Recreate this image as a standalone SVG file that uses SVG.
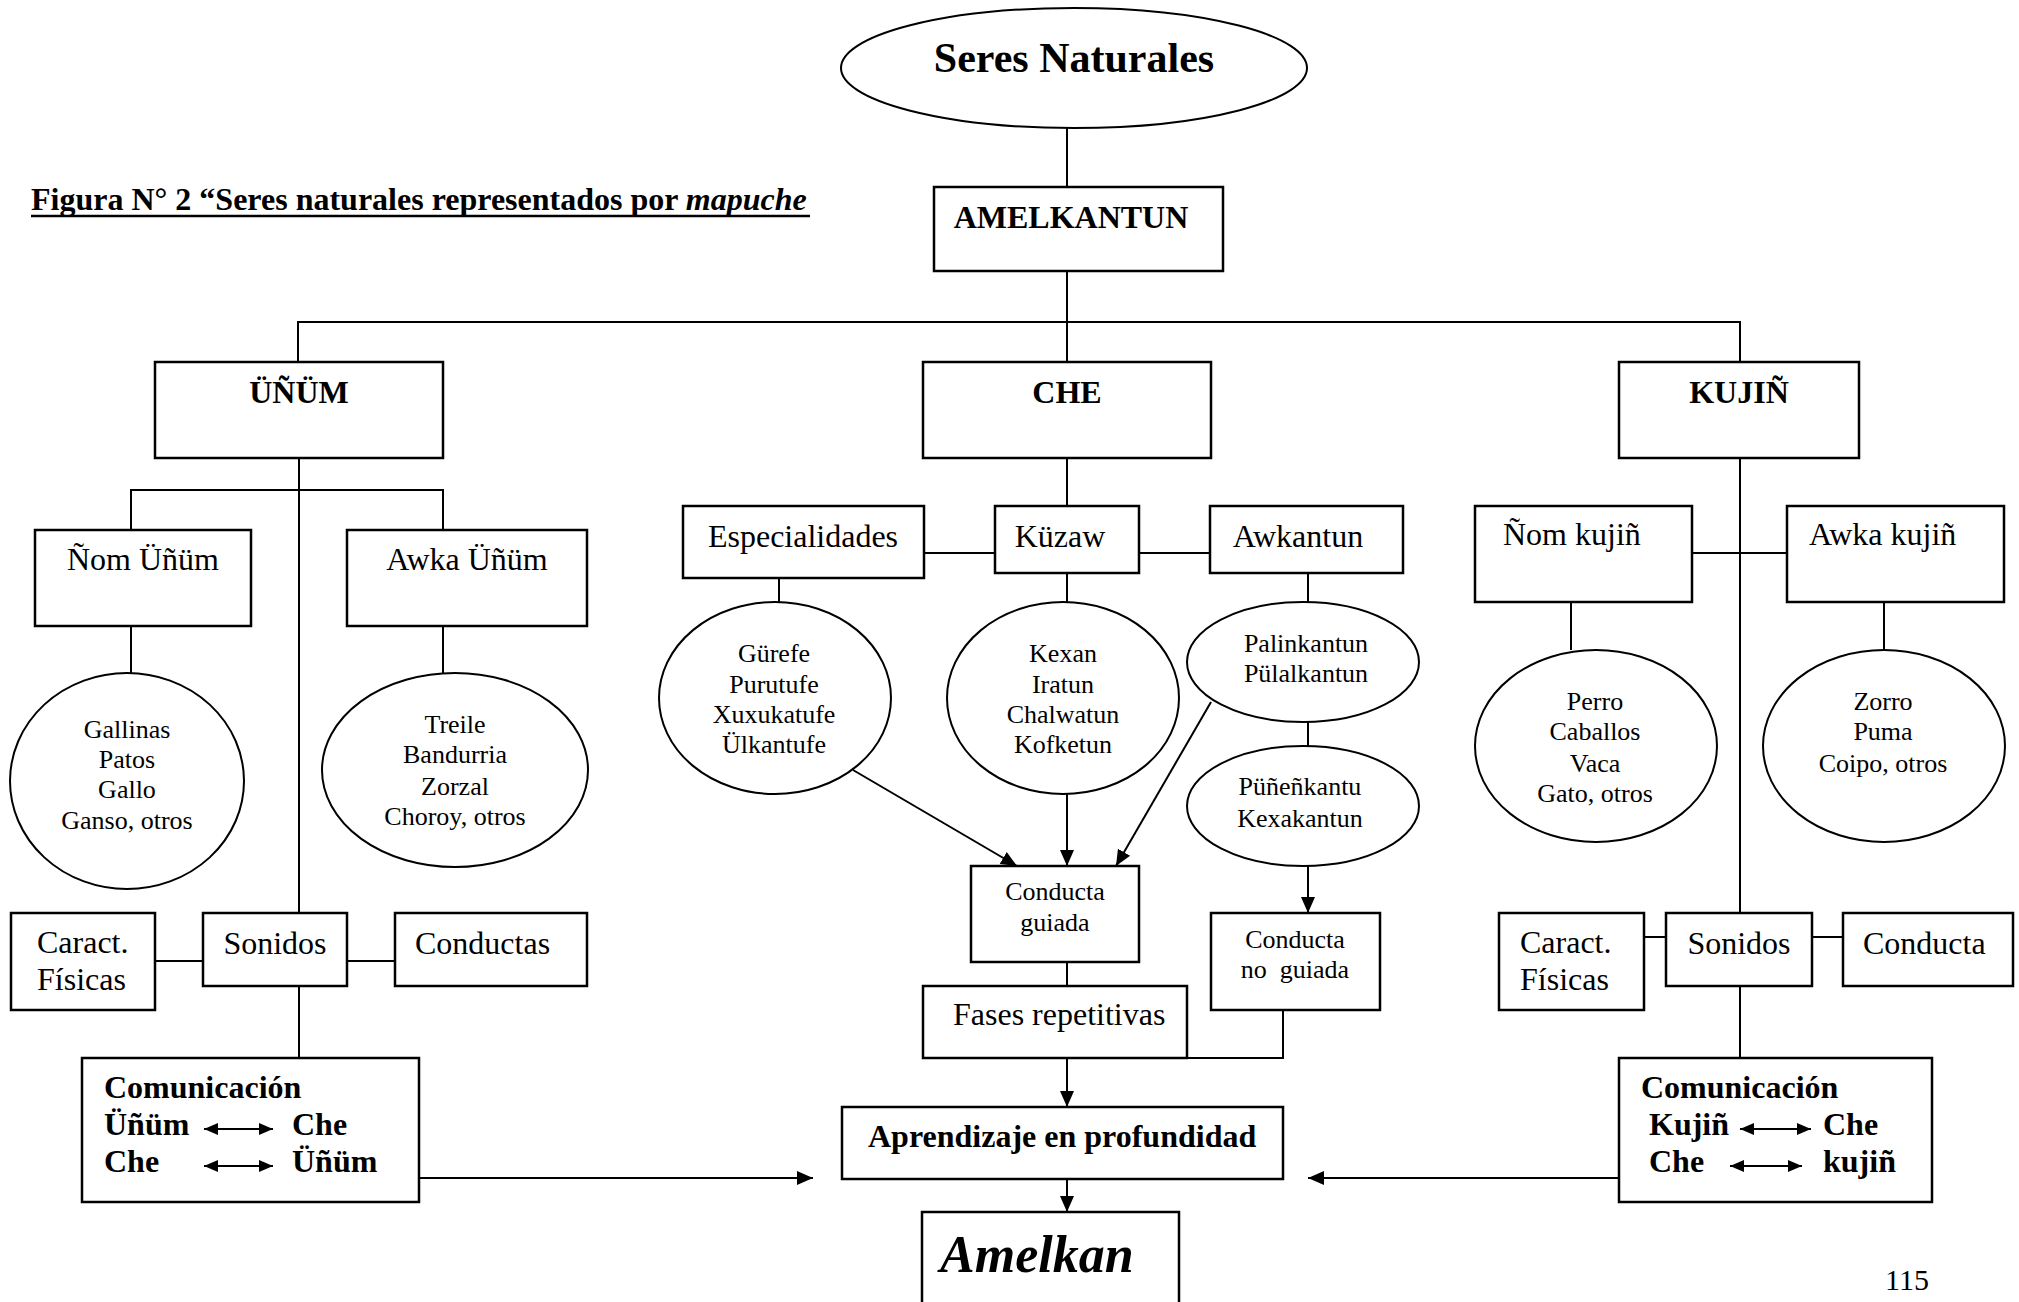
<svg xmlns="http://www.w3.org/2000/svg" width="2019" height="1302" viewBox="0 0 2019 1302">
<style>
.bx{fill:#fff;stroke:#000;stroke-width:2.5}
.el{fill:#fff;stroke:#000;stroke-width:2}
.ln{fill:none;stroke:#000;stroke-width:2}
text{font-family:"Liberation Serif","Times New Roman",serif;fill:#000}
.b{font-weight:bold;font-size:32px}
.r{font-size:32px}
.s{font-size:26px;text-anchor:middle}
.m{text-anchor:middle}
</style>
<defs>
<marker id="ah" viewBox="0 0 16 16" refX="16" refY="8" markerWidth="16" markerHeight="16" markerUnits="userSpaceOnUse" orient="auto">
<path d="M0,1 L16,8 L0,15 z" fill="#000"/>
</marker>
<marker id="sa" viewBox="0 0 14 12" refX="14" refY="6" markerWidth="14" markerHeight="12" markerUnits="userSpaceOnUse" orient="auto-start-reverse">
<path d="M0,0 L14,6 L0,12 z" fill="#000"/>
</marker>
</defs>
<rect width="2019" height="1302" fill="#fff"/>

<g id="title">
<text x="31" y="210" class="b">Figura N° 2 “Seres naturales representados por <tspan font-style="italic">mapuche</tspan></text>
<line x1="31" y1="216" x2="810" y2="216" stroke="#000" stroke-width="2.5"/>
</g>

<g id="connectors">
<line class="ln" x1="1067" y1="128" x2="1067" y2="187"/>
<line class="ln" x1="1067" y1="271" x2="1067" y2="362"/>
<polyline class="ln" points="298,362 298,322 1740,322 1740,362"/>
<line class="ln" x1="299" y1="458" x2="299" y2="913"/>
<polyline class="ln" points="131,530 131,490 443,490 443,530"/>
<line class="ln" x1="131" y1="626" x2="131" y2="673"/>
<line class="ln" x1="443" y1="626" x2="443" y2="673"/>
<line class="ln" x1="155" y1="961" x2="203" y2="961"/>
<line class="ln" x1="347" y1="961" x2="395" y2="961"/>
<line class="ln" x1="299" y1="986" x2="299" y2="1058"/>
<line class="ln" x1="419" y1="1178" x2="813" y2="1178" marker-end="url(#ah)"/>

<line class="ln" x1="1067" y1="458" x2="1067" y2="506"/>
<line class="ln" x1="924" y1="553" x2="995" y2="553"/>
<line class="ln" x1="1139" y1="553" x2="1210" y2="553"/>
<line class="ln" x1="779" y1="578" x2="779" y2="602"/>
<line class="ln" x1="1067" y1="573" x2="1067" y2="602"/>
<line class="ln" x1="1308" y1="573" x2="1308" y2="602"/>
<line class="ln" x1="1308" y1="722" x2="1308" y2="746"/>
<line class="ln" x1="853" y1="770" x2="1017" y2="866" marker-end="url(#ah)"/>
<line class="ln" x1="1067" y1="794" x2="1067" y2="866" marker-end="url(#ah)"/>
<line class="ln" x1="1211" y1="702" x2="1116" y2="866" marker-end="url(#ah)"/>
<line class="ln" x1="1308" y1="866" x2="1308" y2="913" marker-end="url(#ah)"/>
<line class="ln" x1="1067" y1="962" x2="1067" y2="986"/>
<polyline class="ln" points="1283,1010 1283,1058 1187,1058"/>
<line class="ln" x1="1067" y1="1058" x2="1067" y2="1107" marker-end="url(#ah)"/>
<line class="ln" x1="1067" y1="1179" x2="1067" y2="1212" marker-end="url(#ah)"/>

<line class="ln" x1="1740" y1="458" x2="1740" y2="913"/>
<line class="ln" x1="1692" y1="553" x2="1787" y2="553"/>
<line class="ln" x1="1571" y1="602" x2="1571" y2="650"/>
<line class="ln" x1="1884" y1="602" x2="1884" y2="650"/>
<line class="ln" x1="1644" y1="937" x2="1666" y2="937"/>
<line class="ln" x1="1812" y1="937" x2="1843" y2="937"/>
<line class="ln" x1="1740" y1="986" x2="1740" y2="1058"/>
<line class="ln" x1="1619" y1="1178" x2="1308" y2="1178" marker-end="url(#ah)"/>
</g>

<g id="seres-naturales">
<ellipse class="el" cx="1074" cy="68" rx="233" ry="60"/>
<text x="1074" y="72" class="b m" font-size="42" style="font-size:42px">Seres Naturales</text>
</g>
<g id="amelkantun">
<rect class="bx" x="934" y="187" width="289" height="84"/>
<text x="1071" y="228" class="b m">AMELKANTUN</text>
</g>
<g id="unum">
<rect class="bx" x="155" y="362" width="288" height="96"/>
<text x="299" y="403" class="b m">ÜÑÜM</text>
</g>
<g id="che">
<rect class="bx" x="923" y="362" width="288" height="96"/>
<text x="1067" y="403" class="b m">CHE</text>
</g>
<g id="kujin">
<rect class="bx" x="1619" y="362" width="240" height="96"/>
<text x="1739" y="403" class="b m">KUJIÑ</text>
</g>

<g id="nom-unum">
<rect class="bx" x="35" y="530" width="216" height="96"/>
<text x="143" y="570" class="r m">Ñom Üñüm</text>
</g>
<g id="awka-unum">
<rect class="bx" x="347" y="530" width="240" height="96"/>
<text x="467" y="570" class="r m">Awka Üñüm</text>
</g>
<g id="gallinas">
<ellipse class="el" cx="127" cy="781" rx="117" ry="108"/>
<text class="s"><tspan x="127" y="738">Gallinas</tspan><tspan x="127" y="768">Patos</tspan><tspan x="127" y="798">Gallo</tspan><tspan x="127" y="829">Ganso, otros</tspan></text>
</g>
<g id="treile">
<ellipse class="el" cx="455" cy="770" rx="133" ry="97"/>
<text class="s"><tspan x="455" y="733">Treile</tspan><tspan x="455" y="763">Bandurria</tspan><tspan x="455" y="795">Zorzal</tspan><tspan x="455" y="825">Choroy, otros</tspan></text>
</g>
<g id="caract-unum">
<rect class="bx" x="11" y="913" width="144" height="97"/>
<text class="r"><tspan x="37" y="953">Caract.</tspan><tspan x="37" y="990">Físicas</tspan></text>
</g>
<g id="sonidos-unum">
<rect class="bx" x="203" y="913" width="144" height="73"/>
<text x="275" y="954" class="r m">Sonidos</text>
</g>
<g id="conductas-unum">
<rect class="bx" x="395" y="913" width="192" height="73"/>
<text x="415" y="954" class="r">Conductas</text>
</g>
<g id="comunicacion-unum">
<rect class="bx" x="82" y="1058" width="337" height="144"/>
<text x="104" y="1098" class="b">Comunicación</text>
<text x="104" y="1135" class="b">Üñüm</text>
<text x="292" y="1135" class="b">Che</text>
<text x="104" y="1172" class="b">Che</text>
<text x="292" y="1172" class="b">Üñüm</text>
<line class="ln" x1="204" y1="1129" x2="273" y2="1129" marker-start="url(#sa)" marker-end="url(#sa)"/>
<line class="ln" x1="204" y1="1166" x2="273" y2="1166" marker-start="url(#sa)" marker-end="url(#sa)"/>
</g>

<g id="especialidades">
<rect class="bx" x="683" y="506" width="241" height="72"/>
<text x="803" y="547" class="r m">Especialidades</text>
</g>
<g id="kuzaw">
<rect class="bx" x="995" y="506" width="144" height="67"/>
<text x="1060" y="547" class="r m">Küzaw</text>
</g>
<g id="awkantun">
<rect class="bx" x="1210" y="506" width="193" height="67"/>
<text x="1298" y="547" class="r m">Awkantun</text>
</g>
<g id="gurefe">
<ellipse class="el" cx="775" cy="698" rx="116" ry="96"/>
<text class="s"><tspan x="774" y="662">Gürefe</tspan><tspan x="774" y="693">Purutufe</tspan><tspan x="774" y="723">Xuxukatufe</tspan><tspan x="774" y="753">Ülkantufe</tspan></text>
</g>
<g id="kexan">
<ellipse class="el" cx="1063" cy="698" rx="116" ry="96"/>
<text class="s"><tspan x="1063" y="662">Kexan</tspan><tspan x="1063" y="693">Iratun</tspan><tspan x="1063" y="723">Chalwatun</tspan><tspan x="1063" y="753">Kofketun</tspan></text>
</g>
<g id="palinkantun">
<ellipse class="el" cx="1303" cy="662" rx="116" ry="60"/>
<text class="s"><tspan x="1306" y="652">Palinkantun</tspan><tspan x="1306" y="682">Pülalkantun</tspan></text>
</g>
<g id="punenkantu">
<ellipse class="el" cx="1303" cy="806" rx="116" ry="60"/>
<text class="s"><tspan x="1300" y="795">Püñeñkantu</tspan><tspan x="1300" y="827">Kexakantun</tspan></text>
</g>
<g id="conducta-guiada">
<rect class="bx" x="971" y="866" width="168" height="96"/>
<text class="s"><tspan x="1055" y="900">Conducta</tspan><tspan x="1055" y="931">guiada</tspan></text>
</g>
<g id="conducta-no-guiada">
<rect class="bx" x="1211" y="913" width="169" height="97"/>
<text class="s"><tspan x="1295" y="948">Conducta</tspan><tspan x="1295" y="978" xml:space="preserve">no  guiada</tspan></text>
</g>
<g id="fases">
<rect class="bx" x="923" y="986" width="264" height="72"/>
<text x="953" y="1025" class="r">Fases repetitivas</text>
</g>
<g id="aprendizaje">
<rect class="bx" x="842" y="1107" width="441" height="72"/>
<text x="868" y="1147" class="b">Aprendizaje en profundidad</text>
</g>
<g id="amelkan">
<rect class="bx" x="922" y="1212" width="257" height="110"/>
<text x="940" y="1272" font-weight="bold" font-style="italic" style="font-size:52px">Amelkan</text>
</g>

<g id="nom-kujin">
<rect class="bx" x="1475" y="506" width="217" height="96"/>
<text x="1503" y="545" class="r">Ñom kujiñ</text>
</g>
<g id="awka-kujin">
<rect class="bx" x="1787" y="506" width="217" height="96"/>
<text x="1809" y="545" class="r">Awka kujiñ</text>
</g>
<g id="perro">
<ellipse class="el" cx="1596" cy="746" rx="121" ry="96"/>
<text class="s"><tspan x="1595" y="710">Perro</tspan><tspan x="1595" y="740">Caballos</tspan><tspan x="1595" y="772">Vaca</tspan><tspan x="1595" y="802">Gato, otros</tspan></text>
</g>
<g id="zorro">
<ellipse class="el" cx="1884" cy="746" rx="121" ry="96"/>
<text class="s"><tspan x="1883" y="710">Zorro</tspan><tspan x="1883" y="740">Puma</tspan><tspan x="1883" y="772">Coipo, otros</tspan></text>
</g>
<g id="caract-kujin">
<rect class="bx" x="1499" y="913" width="145" height="97"/>
<text class="r"><tspan x="1520" y="953">Caract.</tspan><tspan x="1520" y="990">Físicas</tspan></text>
</g>
<g id="sonidos-kujin">
<rect class="bx" x="1666" y="913" width="146" height="73"/>
<text x="1739" y="954" class="r m">Sonidos</text>
</g>
<g id="conducta-kujin">
<rect class="bx" x="1843" y="913" width="170" height="73"/>
<text x="1863" y="954" class="r">Conducta</text>
</g>
<g id="comunicacion-kujin">
<rect class="bx" x="1619" y="1058" width="313" height="144"/>
<text x="1641" y="1098" class="b">Comunicación</text>
<text x="1649" y="1135" class="b">Kujiñ</text>
<text x="1823" y="1135" class="b">Che</text>
<text x="1649" y="1172" class="b">Che</text>
<text x="1823" y="1172" class="b">kujiñ</text>
<line class="ln" x1="1740" y1="1129" x2="1811" y2="1129" marker-start="url(#sa)" marker-end="url(#sa)"/>
<line class="ln" x1="1730" y1="1166" x2="1802" y2="1166" marker-start="url(#sa)" marker-end="url(#sa)"/>
</g>

<text x="1885" y="1290" style="font-size:30px">115</text>
</svg>
